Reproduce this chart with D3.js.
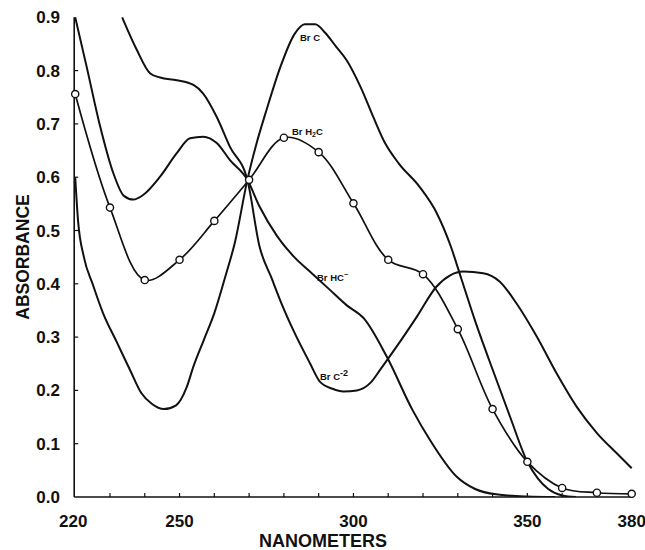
<!DOCTYPE html>
<html>
<head>
<meta charset="utf-8">
<script src="https://cdn.jsdelivr.net/npm/d3@7"></script>
<style>
  html, body { margin: 0; padding: 0; background: #fff; }
  svg { display: block; }
  text { font-family: "Liberation Sans", Arial, Helvetica, sans-serif; fill: #111; }
</style>
</head>
<body>
<svg id="chart" width="645" height="550"></svg>
<script>
// Absorption spectra of the bromo compound in its four protonation states.

// Br H2C: measured points (open circles)
const h2cNm  = [220, 230, 240, 250, 260, 270, 280, 290, 300, 310, 320, 330, 340, 350, 360, 370, 380];
const h2cAbs = [0.756, 0.543, 0.407, 0.445, 0.518, 0.595, 0.674, 0.647, 0.551, 0.445, 0.418, 0.315, 0.165, 0.066, 0.017, 0.008, 0.006];

// Br C
const brCNm  = [220, 220.8, 222.5, 225, 228, 232, 236, 239, 242, 245.5, 249, 252, 254, 257, 260, 263, 266, 269.5, 272, 275,
                279, 283, 286, 289, 292, 295, 298, 302, 305.7, 309, 313, 319, 324, 328, 331, 335, 339, 345, 350, 353,
                356, 360, 364];
const brCAbs = [0.60, 0.52, 0.45, 0.40, 0.345, 0.29, 0.235, 0.195, 0.175, 0.165, 0.172, 0.205, 0.245, 0.295, 0.345, 0.41, 0.48, 0.595, 0.66, 0.726,
                0.807, 0.868, 0.887, 0.887, 0.87, 0.845, 0.82, 0.77, 0.713, 0.665, 0.626, 0.582, 0.532, 0.47, 0.41, 0.33, 0.257, 0.151, 0.066, 0.035,
                0.015, 0.003, 0];

// Br C-2
const brC2Nm  = [233.5, 237.7, 241.5, 244.4, 249.2, 254, 256.8, 260.7, 264.5, 269.5, 273, 276.5, 279.5, 282.7, 287.5, 290.4, 294, 297.1, 301, 305,
                 307.6, 312.4, 318.2, 323.9, 327.8, 331.6, 337.3, 342.1, 346.9, 352.7, 358.4, 364.2, 370, 375.7, 380];
const brC2Abs = [0.9, 0.839, 0.795, 0.787, 0.782, 0.773, 0.757, 0.713, 0.657, 0.595, 0.47, 0.41, 0.36, 0.313, 0.251, 0.216, 0.203, 0.198, 0.2, 0.215,
                 0.238, 0.282, 0.338, 0.395, 0.416, 0.423, 0.42, 0.404, 0.363, 0.301, 0.232, 0.169, 0.12, 0.082, 0.054];

// Br HC-
const brHCNm  = [220, 223.3, 227, 231, 234, 236.7, 239.6, 244.4, 249.2, 253, 256.8, 260.7, 264.5, 269.5, 273, 278, 283, 288, 293, 298,
                 303, 309.6, 317, 322, 329.7, 335, 341, 350, 358];
const brHCAbs = [0.9, 0.807, 0.70, 0.607, 0.565, 0.558, 0.567, 0.601, 0.645, 0.673, 0.676, 0.664, 0.632, 0.595, 0.545, 0.49, 0.45, 0.42, 0.39, 0.36,
                 0.335, 0.263, 0.163, 0.107, 0.038, 0.015, 0.005, 0.001, 0];

// Axis ticks
const xTickLabels = [220, 250, 300, 350, 380];
const xMinorTicks = [230, 240, 250, 260, 270, 280, 290, 300, 310, 320, 330, 340, 350, 360, 370];
const yTickLabels = [0.0, 0.1, 0.2, 0.3, 0.4, 0.5, 0.6, 0.7, 0.8, 0.9];

const svg = d3.select("#chart");

const x = d3.scaleLinear().domain([220, 380]).range([75.2, 631.7]);
const y = d3.scaleLinear().domain([0, 0.9]).range([497, 17.3]);

const zip = (a, b) => a.map((v, i) => [v, b[i]]);

// clip to the plotting area
svg.append("defs").append("clipPath").attr("id", "plot")
  .append("rect").attr("x", x(220) - 1).attr("y", y(0.9) - 1)
  .attr("width", x(380) - x(220) + 6).attr("height", y(0) - y(0.9) + 1);

// axes frame
const axisG = svg.append("g").attr("stroke", "#111").attr("fill", "none");
axisG.append("line")
  .attr("x1", x(220) - 1).attr("x2", x(220) - 1)
  .attr("y1", y(0.9)).attr("y2", y(0))
  .attr("stroke-width", 1.6);
axisG.append("line")
  .attr("x1", x(220) - 1).attr("x2", x(380) + 1)
  .attr("y1", y(0)).attr("y2", y(0))
  .attr("stroke-width", 1.6);

// inward ticks
axisG.selectAll(".xt").data(xMinorTicks).join("line")
  .attr("x1", d => x(d)).attr("x2", d => x(d))
  .attr("y1", y(0)).attr("y2", y(0) - 4)
  .attr("stroke-width", 1.2);
axisG.selectAll(".yt").data(yTickLabels.slice(1, -1)).join("line")
  .attr("x1", x(220) - 1).attr("x2", x(220) + 3)
  .attr("y1", d => y(d)).attr("y2", d => y(d))
  .attr("stroke-width", 1.2);

// tick labels
svg.append("g").selectAll("text").data(yTickLabels).join("text")
  .attr("x", 60).attr("y", d => y(d) + 6)
  .attr("text-anchor", "end")
  .attr("font-size", 17).attr("font-weight", "bold")
  .text(d => d.toFixed(1));

svg.append("g").selectAll("text").data(xTickLabels).join("text")
  .attr("x", d => x(d) - (d === 220 ? 2 : 0)).attr("y", 527)
  .attr("text-anchor", "middle")
  .attr("font-size", 17).attr("font-weight", "bold")
  .text(d => d);

// axis titles
svg.append("text")
  .attr("x", 323).attr("y", 547)
  .attr("text-anchor", "middle")
  .attr("font-size", 18).attr("font-weight", "bold")
  .text("NANOMETERS");

svg.append("text")
  .attr("transform", "translate(29,257) rotate(-90)")
  .attr("text-anchor", "middle")
  .attr("font-size", 17.5).attr("font-weight", "bold")
  .text("ABSORBANCE");

// spectra
const plot = svg.append("g").attr("clip-path", "url(#plot)");
const smooth = d3.line().x(d => x(d[0])).y(d => y(d[1])).curve(d3.curveMonotoneX);

[[brCNm, brCAbs], [brC2Nm, brC2Abs], [brHCNm, brHCAbs]].forEach(([nm, ab]) => {
  plot.append("path")
    .datum(zip(nm, ab))
    .attr("d", smooth)
    .attr("fill", "none")
    .attr("stroke", "#111")
    .attr("stroke-width", 2)
    .attr("stroke-linejoin", "round");
});

const h2cData = zip(h2cNm, h2cAbs);
plot.append("path")
  .datum(h2cData)
  .attr("d", d3.line().x(d => x(d[0])).y(d => y(d[1])).curve(d3.curveCatmullRom.alpha(0.5)))
  .attr("fill", "none")
  .attr("stroke", "#111")
  .attr("stroke-width", 1.7);

svg.append("g").selectAll("circle").data(h2cData).join("circle")
  .attr("cx", d => x(d[0])).attr("cy", d => y(d[1]))
  .attr("r", 3.6)
  .attr("fill", "#fff")
  .attr("stroke", "#111")
  .attr("stroke-width", 1.4);

// curve labels
const lab = svg.append("g").attr("font-size", 9.5).attr("font-weight", "bold");

lab.append("text").attr("x", 300).attr("y", 41).text("Br C");

const t2 = lab.append("text").attr("x", 292).attr("y", 135);
t2.append("tspan").text("Br H");
t2.append("tspan").attr("font-size", 7).attr("dy", 2).text("2");
t2.append("tspan").attr("dy", -2).text("C");

const t3 = lab.append("text").attr("x", 317).attr("y", 281);
t3.append("tspan").text("Br HC");
t3.append("tspan").attr("font-size", 7).attr("dy", -4).text("\u2212");

const t4 = lab.append("text").attr("x", 320).attr("y", 380);
t4.append("tspan").text("Br C");
t4.append("tspan").attr("font-size", 9).attr("dy", -4).text("-2");
</script>
</body>
</html>
